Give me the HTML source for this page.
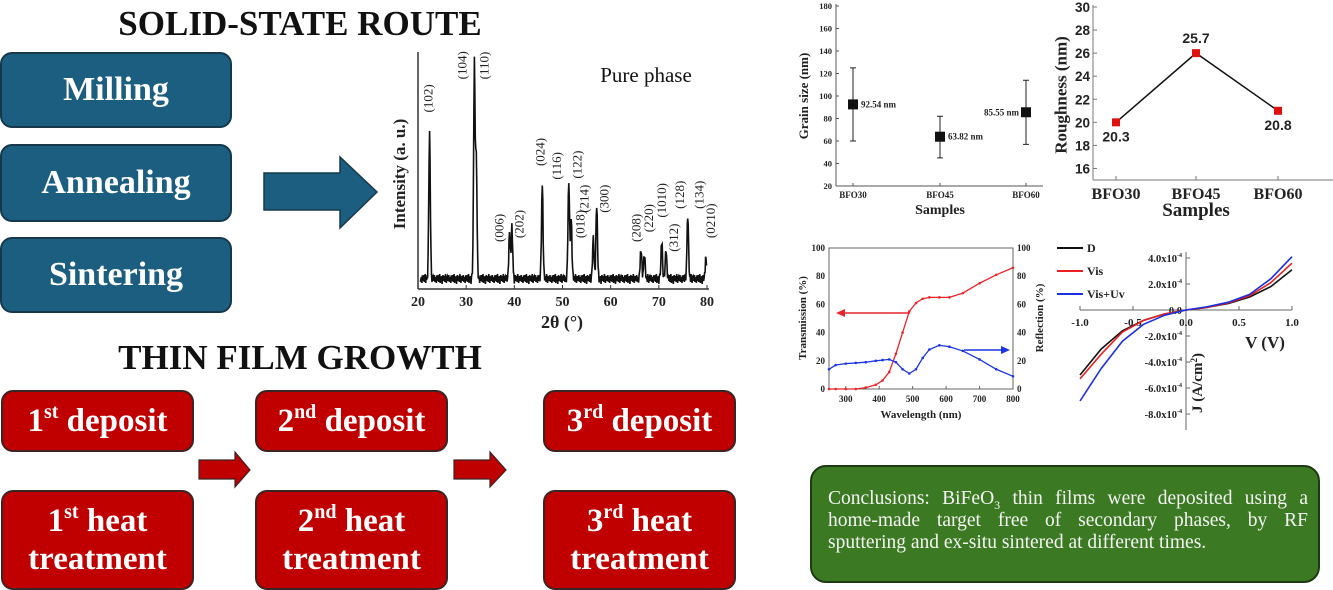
<!DOCTYPE html>
<html><head><meta charset="utf-8">
<style>
body{margin:0;width:1333px;height:588px;background:#fff;position:relative;overflow:hidden;font-family:"Liberation Serif",serif}
.t{position:absolute;font-weight:bold;font-size:35px;color:#111;text-align:center;width:420px;left:90px}
.bb{position:absolute;background:#1b5e80;border:2px solid #16384a;border-radius:12px;color:#fff;font-weight:bold;font-size:34px;display:flex;align-items:center;justify-content:center;box-sizing:border-box}
.rb{position:absolute;background:#c00000;border:2px solid #3a2424;border-radius:12px;color:#fff;font-weight:bold;font-size:33px;display:flex;align-items:center;justify-content:center;text-align:center;line-height:38px;box-sizing:border-box}
.rb sup{font-size:20px;vertical-align:13px;line-height:0}
.jl{text-align:justify;text-align-last:justify;white-space:nowrap}
svg{position:absolute;left:0;top:0}
</style></head><body>
<div class="t" style="top:4px">SOLID-STATE ROUTE</div>
<div class="bb" style="left:0;top:52px;width:232px;height:76px">Milling</div>
<div class="bb" style="left:0;top:144px;width:232px;height:78px">Annealing</div>
<div class="bb" style="left:0;top:237px;width:232px;height:76px">Sintering</div>
<div class="t" style="top:338px">THIN FILM GROWTH</div>
<div class="rb" style="left:1px;top:390px;width:193px;height:62px"><span>1<sup>st</sup> deposit</span></div>
<div class="rb" style="left:255px;top:390px;width:193px;height:62px"><span>2<sup>nd</sup> deposit</span></div>
<div class="rb" style="left:543px;top:390px;width:193px;height:62px"><span>3<sup>rd</sup> deposit</span></div>
<div class="rb" style="left:1px;top:490px;width:193px;height:100px"><span>1<sup>st</sup> heat<br>treatment</span></div>
<div class="rb" style="left:255px;top:490px;width:193px;height:100px"><span>2<sup>nd</sup> heat<br>treatment</span></div>
<div class="rb" style="left:543px;top:490px;width:193px;height:100px"><span>3<sup>rd</sup> heat<br>treatment</span></div>
<div style="position:absolute;left:810px;top:465px;width:510px;height:118px;background:#3b7a22;border:2px solid #1d3a12;border-radius:16px;box-sizing:border-box;color:#f4f4f4;font-size:19.5px;line-height:22px;padding:21px 10px 0 16px">
<div class="jl">Conclusions: BiFeO<sub style="font-size:12px;line-height:0">3</sub> thin films were deposited using a</div>
<div class="jl">home-made target free of secondary phases, by RF</div>
<div>sputtering and ex-situ sintered at different times.</div>
</div>

<svg width="1333" height="588" id="s" font-family="Liberation Serif, serif">
<polygon points="264,173 340,173 340,157 377,192 340,228 340,210 264,210" fill="#1b5e80" stroke="#16384a" stroke-width="1.5"/>
<polygon points="199,460 235,460 235,452 250,470 235,487 235,479 199,479" fill="#c00000" stroke="#3a2424" stroke-width="1.2"/>
<polygon points="454,460 490,460 490,452 506,470 490,487 490,479 454,479" fill="#c00000" stroke="#3a2424" stroke-width="1.2"/>
<g id="xrd"></g>
<g id="grain"></g>
<g id="rough"></g>
<g id="opt"></g>
<g id="jv"></g>
</svg>
<script>
// XRD data
const xrdPeakPos=[22.4,31.7,32.1,39.0,39.5,45.8,51.3,51.8,56.4,57.1,66.3,67.0,70.6,71.5,76.0,79.8];
const xrdPeakH=[152,219,120,45,52,97,101,62,41,75,30,25,38,30,67,22];
const xrdNoise=[3,-2,4,-3,1,5,-4,2,-1,3,-5,2,4,-2,0,3,-3,5,-1,-4,2,3,-2,1,4,-3,0,2,-4,3];
const xrdLabels=["(102)","(104)","(110)","(006)","(202)","(024)","(116)","(122)","(018)","(214)","(300)","(208)","(220)","(1010)","(312)","(128)","(134)","(0210)"];
const xrdLabelPos=[22.7,29.8,34.3,37.4,41.6,46,49.4,53.6,54.3,55.1,59.2,65.9,68.5,71.2,73.7,74.9,79,81.3];
const xrdLabelH=[171,205,205,38,42,116,102,103,42,68,68,38,48,63,28,72,72,42];
const xrdTicks=[20,30,40,50,60,70,80];
// Grain size
const grainCats=["BFO30","BFO45","BFO60"];
const grainVal=[92.54,63.82,85.55];
const grainHi=[125,82,114];
const grainLo=[60,45,57];
const grainTicks=[20,40,60,80,100,120,140,160,180];
// Roughness
const roughCats=["BFO30","BFO45","BFO60"];
const roughVal=[20,26,21];
const roughLbl=["20.3","25.7","20.8"];
const roughTicks=[16,18,20,22,24,26,28,30];
// Optical
const optWl=[250,270,300,330,360,390,410,430,450,470,490,510,530,550,580,610,650,700,750,800];
const optT=[0,0,0,0,1,3,6,12,25,40,55,61,64,65,65,65,68,75,81,86];
const optR=[14,17,18,18.5,19,20,20.5,21,19,14,11,14,22,28,31,30,27,21,14,9];
const optXT=[300,400,500,600,700,800];
const optYT=[0,20,40,60,80,100];
// JV
const jvV=[-1,-0.8,-0.6,-0.4,-0.2,0,0.2,0.4,0.6,0.8,1];
const jvD=[-5,-3,-1.6,-0.8,-0.3,0,0.2,0.5,1.0,1.8,3.1];
const jvVis=[-5.3,-3.4,-1.7,-0.8,-0.3,0,0.2,0.55,1.1,2.1,3.6];
const jvUv=[-7,-4.5,-2.4,-1.1,-0.4,0,0.25,0.6,1.2,2.4,4.1];
const jvXT=[-1,-0.5,0,0.5,1];
const jvYT=[4,2,0,-2,-4,-6,-8];

const NS="http://www.w3.org/2000/svg";
function mk(p,tag,a,txt){const e=document.createElementNS(NS,tag);for(const k in a)e.setAttribute(k,a[k]);if(txt!==undefined)e.textContent=txt;p.appendChild(e);return e;}
function lin(d0,d1,r0,r1){return v=>r0+(v-d0)*(r1-r0)/(d1-d0);}

// XRD
(function(){const g=document.getElementById('xrd');
const x=lin(20,80,418,707),y=lin(0,230,279,55);
let pts=[];
for(let t=20.5;t<=79.9;t+=0.1){let v=xrdNoise[Math.round(t*10)%xrdNoise.length];
 for(let i=0;i<xrdPeakPos.length;i++){const w=0.22;v+=xrdPeakH[i]*Math.exp(-Math.pow((t-xrdPeakPos[i])/w,2));}
 pts.push(x(t).toFixed(1)+','+y(v).toFixed(1));}
const pl=mk(g,'polyline',{points:pts.join(' '),fill:'none',stroke:'#111','stroke-width':1.6});

mk(g,'line',{x1:418,y1:52,x2:418,y2:289,stroke:'#333','stroke-width':1.5});
mk(g,'line',{x1:418,y1:289,x2:709,y2:289,stroke:'#333','stroke-width':1.5});
xrdTicks.forEach(t=>{mk(g,'line',{x1:x(t),y1:289,x2:x(t),y2:285,stroke:'#333'});
 const e=mk(g,'text',{x:x(t),y:306,'text-anchor':'middle','font-size':14,'font-weight':'bold',fill:'#222'},t);
 });
mk(g,'text',{x:562,y:328,'text-anchor':'middle','font-size':18,'font-weight':'bold',fill:'#222'},'2θ (°)');
mk(g,'text',{transform:'translate(405,174) rotate(-90)','text-anchor':'middle','font-size':17,'font-weight':'bold',fill:'#222'},'Intensity (a. u.)');
mk(g,'text',{x:646,y:82,'text-anchor':'middle','font-size':21,fill:'#111'},'Pure phase');
xrdLabels.forEach((l,i)=>{const e=mk(g,'text',{transform:`translate(${x(xrdLabelPos[i])-3},${y(xrdLabelH[i])}) rotate(-90)`,'font-size':13,fill:'#222','dominant-baseline':'central'},l);
 });
})();

// Grain
(function(){const g=document.getElementById('grain');
const y=lin(20,180,186,6);const xs=[853,940,1026];
mk(g,'line',{x1:836,y1:4,x2:836,y2:186,stroke:'#555'});mk(g,'line',{x1:836,y1:186,x2:1043,y2:186,stroke:'#555'});
grainTicks.forEach(t=>{mk(g,'line',{x1:836,y1:y(t),x2:839,y2:y(t),stroke:'#555'});
 mk(g,'text',{x:832,y:y(t)+3,'text-anchor':'end','font-size':8.5,'font-weight':'bold',fill:'#222'},t);});
grainCats.forEach((c,i)=>{mk(g,'line',{x1:xs[i],y1:186,x2:xs[i],y2:183,stroke:'#555'});
 mk(g,'text',{x:xs[i],y:198,'text-anchor':'middle','font-size':9,'font-weight':'bold',fill:'#222'},c);
 mk(g,'line',{x1:xs[i],y1:y(grainHi[i]),x2:xs[i],y2:y(grainLo[i]),stroke:'#222'});
 mk(g,'line',{x1:xs[i]-3,y1:y(grainHi[i]),x2:xs[i]+3,y2:y(grainHi[i]),stroke:'#222'});
 mk(g,'line',{x1:xs[i]-3,y1:y(grainLo[i]),x2:xs[i]+3,y2:y(grainLo[i]),stroke:'#222'});
 const r=mk(g,'rect',{x:xs[i]-5,y:y(grainVal[i])-5,width:10,height:10,fill:'#111'});
 
 mk(g,'text',{x:i==2?xs[i]-7:xs[i]+8,y:y(grainVal[i])+3,'text-anchor':i==2?'end':'start','font-size':9,'font-weight':'bold',fill:'#222'},grainVal[i].toFixed(2)+' nm');});
mk(g,'text',{x:940,y:214,'text-anchor':'middle','font-size':14,'font-weight':'bold',fill:'#222'},'Samples');
mk(g,'text',{transform:'translate(808,96) rotate(-90)','text-anchor':'middle','font-size':13,'font-weight':'bold',fill:'#222'},'Grain size (nm)');
})();

// Roughness
(function(){const g=document.getElementById('rough');
const y=lin(15,30,180,7);const xs=[1116,1196,1278];
mk(g,'line',{x1:1093,y1:5,x2:1093,y2:180,stroke:'#777'});mk(g,'line',{x1:1093,y1:180,x2:1333,y2:180,stroke:'#777'});
roughTicks.forEach(t=>{mk(g,'line',{x1:1093,y1:y(t),x2:1097,y2:y(t),stroke:'#777'});
 mk(g,'text',{x:1090,y:y(t)+5,'text-anchor':'end','font-size':13.5,'font-weight':'bold','font-family':'Liberation Sans, sans-serif',fill:'#222'},t);});
const pl=mk(g,'polyline',{points:roughVal.map((v,i)=>xs[i]+','+y(v)).join(' '),fill:'none',stroke:'#111','stroke-width':1.5});

roughCats.forEach((c,i)=>{mk(g,'line',{x1:xs[i],y1:180,x2:xs[i],y2:176,stroke:'#777'});
 mk(g,'text',{x:xs[i],y:199,'text-anchor':'middle','font-size':16,'font-weight':'bold',fill:'#222'},c);
 const r=mk(g,'rect',{x:xs[i]-4,y:y(roughVal[i])-4,width:8,height:8,fill:'#e01010'});
 
 mk(g,'text',{x:xs[i],y:i==1?y(roughVal[i])-10:y(roughVal[i])+19,'text-anchor':'middle','font-size':14,'font-weight':'bold','font-family':'Liberation Sans, sans-serif',fill:'#222'},roughLbl[i]);});
mk(g,'text',{x:1196,y:216,'text-anchor':'middle','font-size':19,'font-weight':'bold',fill:'#222'},'Samples');
mk(g,'text',{transform:'translate(1061,95) rotate(-90)','text-anchor':'middle','font-size':17,'font-weight':'bold',fill:'#222','dominant-baseline':'central'},'Roughness (nm)');
})();

// Optical
(function(){const g=document.getElementById('opt');
const x=lin(250,800,829,1013),y=lin(0,100,389,248);
mk(g,'rect',{x:829,y:248,width:184,height:141,fill:'none',stroke:'#666'});
optXT.forEach(t=>{mk(g,'line',{x1:x(t),y1:389,x2:x(t),y2:386,stroke:'#666'});
 mk(g,'text',{x:x(t),y:402,'text-anchor':'middle','font-size':9,'font-weight':'bold',fill:'#222'},t);});
optYT.forEach(t=>{mk(g,'text',{x:825,y:y(t)+3,'text-anchor':'end','font-size':9,'font-weight':'bold',fill:'#222'},t);
 mk(g,'text',{x:1017,y:y(t)+3,'font-size':9,'font-weight':'bold',fill:'#222'},t);});
const a=mk(g,'polyline',{points:optWl.map((w,i)=>x(w)+','+y(optT[i])).join(' '),fill:'none',stroke:'#e8262a','stroke-width':1.3});

const b=mk(g,'polyline',{points:optWl.map((w,i)=>x(w)+','+y(optR[i])).join(' '),fill:'none',stroke:'#1a35e0','stroke-width':1.3});

optWl.forEach((w,i)=>{mk(g,'circle',{cx:x(w),cy:y(optT[i]),r:1.3,fill:'#e8262a'});mk(g,'circle',{cx:x(w),cy:y(optR[i]),r:1.3,fill:'#1a35e0'});});
mk(g,'line',{x1:910,y1:313,x2:842,y2:313,stroke:'#e8262a','stroke-width':1.5});
mk(g,'polygon',{points:'836,313 845,309 845,317',fill:'#e8262a'});
mk(g,'line',{x1:964,y1:350,x2:1004,y2:350,stroke:'#1a35e0','stroke-width':1.5});
mk(g,'polygon',{points:'1010,350 1001,346 1001,354',fill:'#1a35e0'});
mk(g,'text',{x:921,y:418,'text-anchor':'middle','font-size':11,'font-weight':'bold',fill:'#222'},'Wavelength (nm)');
mk(g,'text',{transform:'translate(806,318) rotate(-90)','text-anchor':'middle','font-size':11,'font-weight':'bold',fill:'#222'},'Transmission (%)');
mk(g,'text',{transform:'translate(1043,318) rotate(-90)','text-anchor':'middle','font-size':11,'font-weight':'bold',fill:'#222'},'Reflection (%)');
})();

// JV
(function(){const g=document.getElementById('jv');
const x=lin(-1,1,1080,1292),y=lin(0,4,310,258);
mk(g,'line',{x1:1080,y1:310,x2:1292,y2:310,stroke:'#666'});mk(g,'line',{x1:1186,y1:252,x2:1186,y2:430,stroke:'#666'});
jvXT.forEach(t=>{mk(g,'line',{x1:x(t),y1:310,x2:x(t),y2:306,stroke:'#666'});
 mk(g,'text',{x:x(t),y:326,'text-anchor':'middle','font-size':11,'font-weight':'bold',fill:'#222'},t.toFixed(1));});
jvYT.forEach(t=>{mk(g,'line',{x1:1186,y1:y(t),x2:1190,y2:y(t),stroke:'#666'});
 const e=mk(g,'text',{x:1182,y:y(t)+4,'text-anchor':'end','font-size':10.5,'font-weight':'bold',fill:'#222'});
 if(t===0){e.textContent='0.0';}else{e.textContent=t.toFixed(1)+'x10';mk(e,'tspan',{dy:-5,'font-size':6},'-4');}});
const ser=[[jvD,'#111','D','jv-dark'],[jvVis,'#e82020','Vis','jv-vis'],[jvUv,'#1a2fe0','Vis+Uv','jv-visuv']];
ser.forEach((s,k)=>{const p=mk(g,'polyline',{points:jvV.map((v,i)=>x(v)+','+y(s[0][i])).join(' '),fill:'none',stroke:s[1],'stroke-width':1.6,'stroke-linejoin':'round'});
 
 mk(g,'line',{x1:1057,y1:248+k*23,x2:1083,y2:248+k*23,stroke:s[1],'stroke-width':2});
 mk(g,'text',{x:1087,y:252+k*23,'font-size':12,'font-weight':'bold',fill:'#222'},s[2]);});
mk(g,'text',{x:1265,y:348,'text-anchor':'middle','font-size':17,'font-weight':'bold',fill:'#222'},'V (V)');
const jt=mk(g,'text',{transform:'translate(1202,383) rotate(-90)','text-anchor':'middle','font-size':15,'font-weight':'bold',fill:'#222'},'J (A/cm');
mk(jt,'tspan',{dy:-5,'font-size':9},'2');mk(jt,'tspan',{dy:5},')');
})();
</script>
</body></html>
